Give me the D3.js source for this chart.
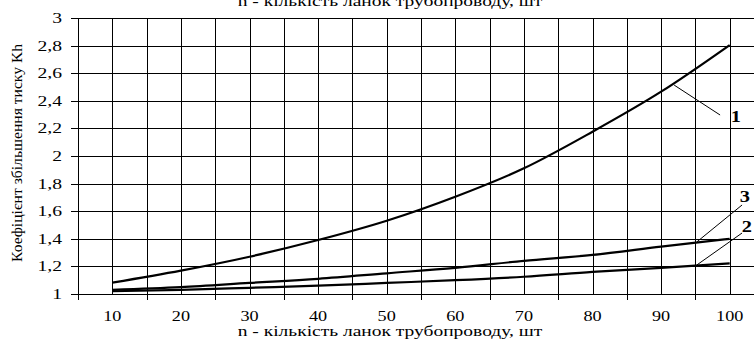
<!DOCTYPE html>
<meta charset="utf-8">
<style>
    body { margin: 0; background: #fff; }
    svg text { font-family: "Liberation Serif", "DejaVu Serif", serif; fill: #000; }
    .grid line { stroke: #000; stroke-width: 1px; shape-rendering: crispEdges; }
    .curve { fill: none; stroke: #000; stroke-width: 2.2px; }
    .leader { stroke: #000; stroke-width: 1px; }
</style>
<svg width="754" height="340"></svg>
<script src="https://d3js.org/d3.v7.min.js"></script>
<script>

    // n - number of pipeline links
    var nValues = [10, 20, 30, 40, 50, 60, 70, 80, 90, 100];
    var series1 = [1.082, 1.169, 1.27, 1.391, 1.531, 1.705, 1.911, 2.176, 2.466, 2.804];
    var series2 = [1.02, 1.03, 1.045, 1.06, 1.08, 1.10, 1.125, 1.16, 1.19, 1.222];
    var series3 = [1.03, 1.05, 1.08, 1.11, 1.15, 1.19, 1.24, 1.283, 1.343, 1.40];
    var yTicks = [1, 1.2, 1.4, 1.6, 1.8, 2, 2.2, 2.4, 2.6, 2.8, 3];
    var xTitle = "n - кількість ланок трубопроводу, шт";
    var yTitle = "Коефіцієнт збільшення тиску Kh";
    // leader annotations: anchor on curve -> end, label position (data units)
    var labels = ["1", "2", "3"];
    var leaderFrom = [[91.9, 2.514], [95.2, 1.21], [95.2, 1.377]];
    var leaderTo = [[98.6, 2.297], [101.8, 1.442], [101.8, 1.645]];
    var labelAt = [[100.9, 2.246], [102.5, 1.449], [102.2, 1.667]];

    var serif = "'Liberation Serif', 'DejaVu Serif', serif";
    var svg = d3.select("svg");

    var x = d3.scaleLinear().domain([5, 105]).range([78, 764]);
    var y = d3.scaleLinear().domain([1, 3]).range([294, 18]);

    var fmt = function(v) { return String(+v.toFixed(1)).replace(".", ","); };

    // top title, cut off by the frame
    svg.append("text")
        .attr("transform", "translate(390,6) scale(1.3,1)")
        .attr("text-anchor", "middle")
        .attr("font-family", serif)
        .style("font-size", "15px")
        .text(xTitle);

    var grid = svg.append("g").attr("class", "grid");

    // horizontal gridlines + left ticks
    grid.selectAll(".h")
        .data(yTicks)
        .enter().append("line")
        .attr("x1", x(5) - 7)
        .attr("x2", x(105))
        .attr("y1", function(d) { return Math.round(y(d)) + 0.5; })
        .attr("y2", function(d) { return Math.round(y(d)) + 0.5; });

    // vertical gridlines every 5 (category edges and centres)
    var vLines = d3.range(5, 106, 5);
    grid.selectAll(".v")
        .data(vLines)
        .enter().append("line")
        .attr("x1", function(d) { return Math.round(x(d)) + 0.5; })
        .attr("x2", function(d) { return Math.round(x(d)) + 0.5; })
        .attr("y1", y(3))
        .attr("y2", function(d) { return d % 10 === 5 ? y(1) + 6 : y(1); });

    // y tick labels
    svg.selectAll(".ylab")
        .data(yTicks)
        .enter().append("text")
        .attr("transform", function(d) { return "translate(62," + (y(d) + 5) + ") scale(1.4,1)"; })
        .attr("text-anchor", "end")
        .attr("font-family", serif)
        .style("font-size", "14px")
        .text(fmt);

    // x tick labels
    svg.selectAll(".xlab")
        .data(nValues)
        .enter().append("text")
        .attr("transform", function(d) { return "translate(" + x(d) + ",321) scale(1.3,1)"; })
        .attr("text-anchor", "middle")
        .attr("font-family", serif)
        .style("font-size", "14px")
        .text(function(d) { return d; });

    // axis titles
    svg.append("text")
        .attr("transform", "translate(390,336) scale(1.3,1)")
        .attr("text-anchor", "middle")
        .attr("font-family", serif)
        .style("font-size", "15px")
        .text(xTitle);

    svg.append("text")
        .attr("transform", "translate(22,153) rotate(-90)")
        .attr("text-anchor", "middle")
        .attr("textLength", 218)
        .attr("lengthAdjust", "spacingAndGlyphs")
        .attr("font-family", serif)
        .style("font-size", "14px")
        .text(yTitle);

    // curves
    var line = d3.line()
        .curve(d3.curveMonotoneX)
        .x(function(d, i) { return x(nValues[i]); })
        .y(function(d) { return y(d); });

    [series1, series2, series3].forEach(function(s) {
        svg.append("path")
            .datum(s)
            .attr("class", "curve")
            .attr("d", line);
    });

    // leaders + labels
    labels.forEach(function(lab, i) {
        svg.append("line")
            .attr("class", "leader")
            .attr("x1", x(leaderFrom[i][0]))
            .attr("y1", y(leaderFrom[i][1]))
            .attr("x2", x(leaderTo[i][0]))
            .attr("y2", y(leaderTo[i][1]));
        svg.append("text")
            .attr("transform", "translate(" + x(labelAt[i][0]) + "," + y(labelAt[i][1]) + ") scale(1.2,1)")
            .attr("text-anchor", "middle")
            .attr("font-family", serif)
            .style("font-size", "17px")
            .style("font-weight", "bold")
            .text(lab);
    });

</script>
